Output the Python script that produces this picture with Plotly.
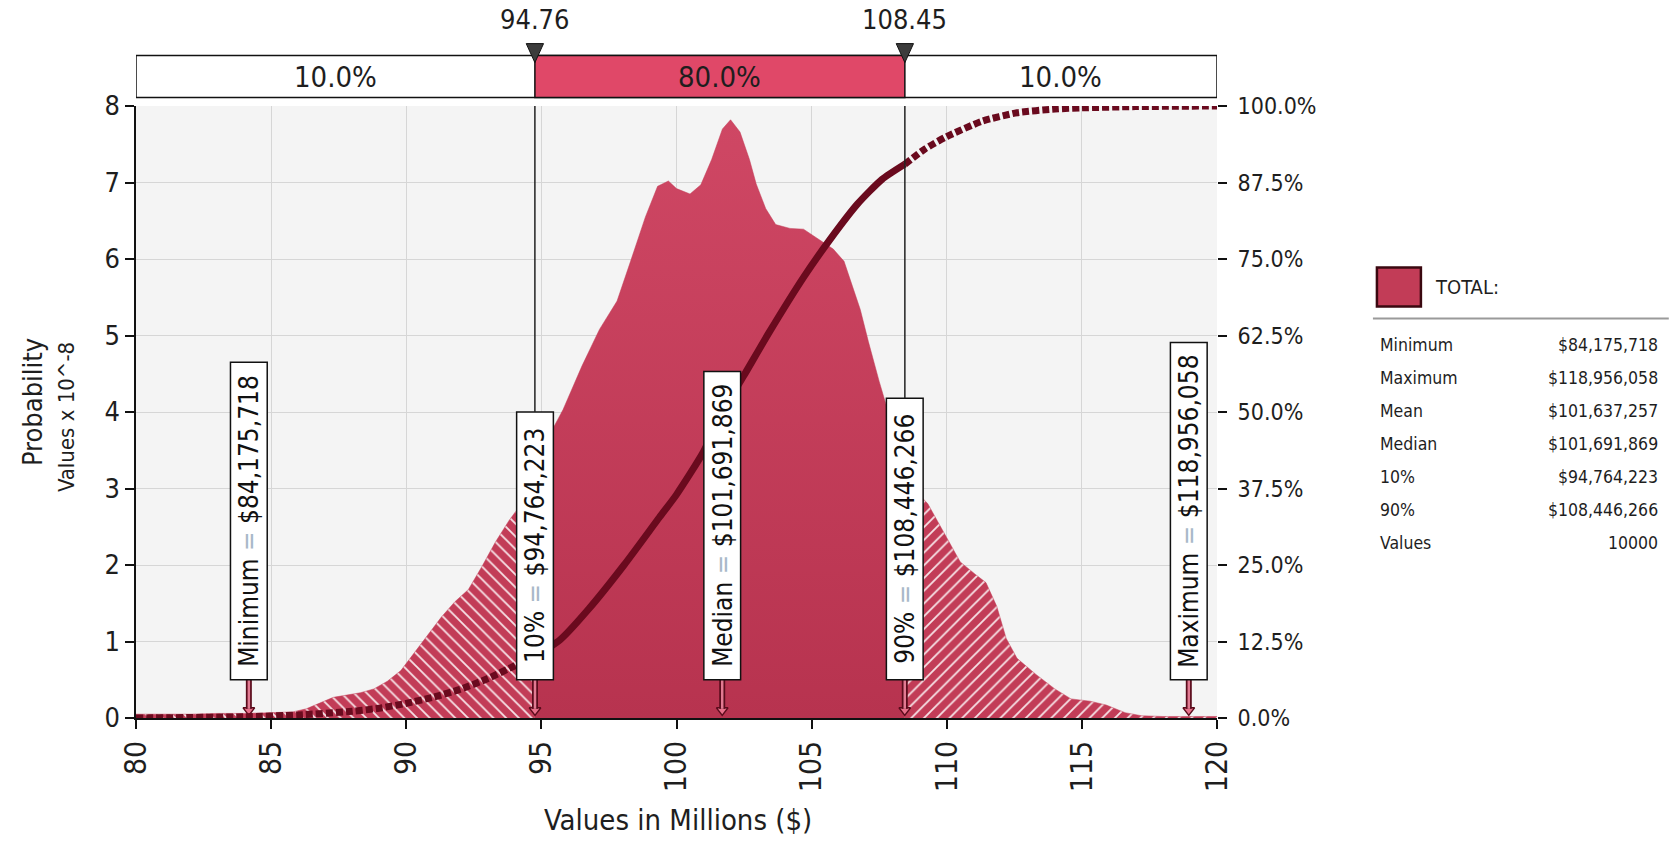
import plotly.graph_objects as go

# ---------------- data ----------------
dens_x = [80, 81, 82, 83, 84, 85, 85.8, 86.3, 86.8, 87.3, 87.8, 88.3, 88.8, 89.3, 89.8,
          90.3, 90.8, 91.3, 91.8, 92.3, 92.8, 93.3, 93.8, 94.3, 94.76,
          95.3, 95.8, 96.5, 97.15, 97.8, 98.3, 98.85, 99.3, 99.7, 100.0, 100.5, 100.9,
          101.3, 101.7, 102.0, 102.35, 102.7, 102.95, 103.3, 103.67, 104.2, 104.7,
          105.25, 105.8, 106.2, 106.4, 106.8, 107.1, 107.5, 107.9, 108.45,
          108.9, 109.3, 110.0, 110.5, 111.05, 111.45, 111.85, 112.2, 112.6, 113.3,
          114.0, 114.6, 115.3, 115.9, 116.6, 117.2, 118, 119, 120]
dens_y = [0.05, 0.05, 0.05, 0.06, 0.06, 0.07, 0.08, 0.12, 0.20, 0.27, 0.30, 0.33, 0.38, 0.48, 0.62,
          0.85, 1.08, 1.32, 1.52, 1.68, 1.98, 2.30, 2.58, 2.82, 3.20,
          3.70, 4.03, 4.60, 5.08, 5.45, 5.97, 6.55, 6.95, 7.02, 6.92, 6.85, 6.97,
          7.30, 7.70, 7.82, 7.66, 7.30, 6.98, 6.66, 6.45, 6.40, 6.39,
          6.26, 6.13, 5.97, 5.76, 5.34, 4.92, 4.40, 3.92, 3.30,
          2.95, 2.80, 2.35, 2.04, 1.88, 1.77, 1.46, 1.04, 0.78, 0.57,
          0.38, 0.25, 0.22, 0.17, 0.07, 0.03, 0.02, 0.02, 0.02]

cdf_x = [80, 84, 86, 88, 89, 90, 91, 92, 93, 94, 94.76, 95.7, 96.75, 98.06, 99.37, 100,
         101, 101.69, 102.5, 103.4, 104.7, 105.65, 106.7, 107.6, 108.45, 109.2, 110,
         111.3, 112.6, 114, 115, 117, 120]
cdf_y = [0, 0.2, 0.5, 1.1, 1.6, 2.4, 3.4, 4.7, 6.4, 8.5, 10, 12.8, 17.8, 25, 32.8, 36.5,
         43.5, 50, 56, 62.8, 72, 78, 84, 88, 90.5, 93, 95,
         97.5, 98.9, 99.5, 99.7, 99.9, 100]

stat_names = ["Minimum", "Maximum", "Mean", "Median", "10%", "90%", "Values"]
stat_values = ["$84,175,718", "$118,956,058", "$101,637,257", "$101,691,869",
               "$94,764,223", "$108,446,266", "10000"]

marker_names = ["Minimum", "10%", "Median", "90%", "Maximum"]
marker_values = [84.175718, 94.764223, 101.691869, 108.446266, 118.956058]
marker_texts = ["$84,175,718", "$94,764,223", "$101,691,869", "$108,446,266", "$118,956,058"]

band_lo, band_hi = 94.76, 108.45
band_labels = ["10.0%", "80.0%", "10.0%"]
series_name = "TOTAL:"

x_ticks = [80, 85, 90, 95, 100, 105, 110, 115, 120]
y_ticks = [0, 1, 2, 3, 4, 5, 6, 7, 8]
y2_ticks = [0, 12.5, 25, 37.5, 50, 62.5, 75, 87.5, 100]

# ---------------- style / layout ----------------
W, H = 1669, 841
PL, PR, PT, PB = 135.5, 1217, 106.4, 718.5   # plot box in window pixels
ML, MT = PL, PT
MR, MB = W - PR, H - PB
PW, PH = PR - PL, PB - PT
FONT = "Tahoma, 'DejaVu Sans Condensed', 'DejaVu Sans', sans-serif"
TXT = "#1e1e1e"
FILL = "#c23c57"
CDF_C = "#6a0a1e"
BAND_C = "#e04868"
BOX_TOPS = [4.65, 4.0, 4.53, 4.18, 4.91]
BOX_HALF = 0.68


def pxx(xp):
    return (xp - PL) / PW


def pxy(yp):
    return (PB - yp) / PH


fig = go.Figure()

left = [i for i, v in enumerate(dens_x) if v <= band_lo]
mid = [i for i, v in enumerate(dens_x) if band_lo <= v <= band_hi]
right = [i for i, v in enumerate(dens_x) if v >= band_hi]


def sub(arr, idx):
    return [arr[i] for i in idx]


hatch_l = dict(shape="\\", bgcolor=FILL, fgcolor="rgba(255,255,255,0.85)", size=9,
               solidity=0.2, fillmode="replace")
hatch_r = dict(shape="/", bgcolor=FILL, fgcolor="rgba(255,255,255,0.85)", size=9,
               solidity=0.2, fillmode="replace")

fig.add_trace(go.Scatter(x=sub(dens_x, left), y=sub(dens_y, left), mode="lines",
                         line=dict(color=FILL, width=0.5), fill="tozeroy",
                         fillcolor=FILL, fillpattern=hatch_l, hoverinfo="skip"))
fig.add_trace(go.Scatter(x=sub(dens_x, mid), y=sub(dens_y, mid), mode="lines",
                         line=dict(color=FILL, width=0.5), fill="tozeroy",
                         fillgradient=dict(type="vertical",
                                           colorscale=[[0, "#b7334f"], [1, "#cf4764"]]),
                         hoverinfo="skip"))
fig.add_trace(go.Scatter(x=sub(dens_x, right), y=sub(dens_y, right), mode="lines",
                         line=dict(color=FILL, width=0.5), fill="tozeroy",
                         fillcolor=FILL, fillpattern=hatch_r, hoverinfo="skip"))

cl = [i for i, v in enumerate(cdf_x) if v <= band_lo]
cm = [i for i, v in enumerate(cdf_x) if band_lo <= v <= band_hi]
cr = [i for i, v in enumerate(cdf_x) if v >= band_hi]
for idx, dash in ((cl, "7px,3px"), (cm, "solid"), (cr, "7px,3px")):
    fig.add_trace(go.Scatter(x=sub(cdf_x, idx), y=sub(cdf_y, idx), yaxis="y2",
                             mode="lines", line=dict(color=CDF_C, width=7, dash=dash,
                                                     shape="spline", smoothing=0.6),
                             hoverinfo="skip", cliponaxis=False))

shapes = []
annotations = []

# marker boxes, stems
for name, v, t, top in zip(marker_names, marker_values, marker_texts, BOX_TOPS):
    shapes.append(dict(type="line", xref="x", yref="y", x0=v, x1=v, y0=0.5, y1=0.12,
                       line=dict(color="#5a0c1c", width=6), layer="above"))
    shapes.append(dict(type="line", xref="x", yref="y", x0=v, x1=v, y0=0.5, y1=0.12,
                       line=dict(color="#e27a92", width=2.5), layer="above"))
    shapes.append(dict(type="rect", xref="x", yref="y", x0=v - BOX_HALF, x1=v + BOX_HALF,
                       y0=0.5, y1=top, fillcolor="white",
                       line=dict(color="#111111", width=1.5), layer="above"))
    annotations.append(dict(xref="x", yref="y", x=v, y=(0.5 + top) / 2,
                            xanchor="center", yanchor="middle",
                            text=f"{name} <span style='color:#a9b9c9'>=</span> {t}",
                            textangle=-90, showarrow=False,
                            font=dict(family=FONT, size=26, color="#111111")))

fig.add_trace(go.Scatter(x=marker_values, y=[0.1] * len(marker_values), mode="markers",
                         marker=dict(symbol="triangle-down", size=10, color="#e8708a",
                                     line=dict(color="#5a0c1c", width=1.5)),
                         cliponaxis=False, hoverinfo="skip"))

# percentile lines
for v, top in ((band_lo, BOX_TOPS[1]), (band_hi, BOX_TOPS[3])):
    shapes.append(dict(type="line", xref="x", yref="y", x0=v, x1=v, y0=top, y1=8,
                       line=dict(color="#222222", width=1.5), layer="above"))

# top band
by0, by1 = pxy(98), pxy(56)
shapes.append(dict(type="rect", xref="x", yref="paper", x0=x_ticks[0], x1=x_ticks[-1],
                   y0=by0, y1=by1, fillcolor="white", line=dict(color="#111111", width=1.5)))
shapes.append(dict(type="rect", xref="x", yref="paper", x0=band_lo, x1=band_hi,
                   y0=by0, y1=by1, fillcolor=BAND_C, line=dict(color="#111111", width=1.5)))
centers = [(x_ticks[0] + band_lo) / 2, (band_lo + band_hi) / 2, (band_hi + x_ticks[-1]) / 2]
for c, lab in zip(centers, band_labels):
    annotations.append(dict(xref="x", yref="paper", x=c, y=(by0 + by1) / 2, text=lab,
                            xanchor="center", yanchor="middle", showarrow=False,
                            font=dict(family=FONT, size=29, color=TXT)))
tw = 0.32
for v in (band_lo, band_hi):
    ya, yb = pxy(63), pxy(44)
    shapes.append(dict(type="path", xref="x", yref="paper",
                       path=f"M {v - tw},{yb} L {v + tw},{yb} L {v},{ya} Z",
                       fillcolor="#3c3c3c", line=dict(color="#111111", width=1)))
    annotations.append(dict(xref="x", yref="paper", x=v, y=pxy(20), text=f"{v:.2f}",
                            xanchor="center", yanchor="middle", showarrow=False,
                            font=dict(family=FONT, size=27, color=TXT)))

# axis titles
annotations.append(dict(xref="paper", yref="paper", x=pxx(32), y=pxy(403),
                        xanchor="center", yanchor="middle",
                        text="Probability", textangle=-90, showarrow=False,
                        font=dict(family=FONT, size=27, color=TXT)))
annotations.append(dict(xref="paper", yref="paper", x=pxx(66), y=pxy(418),
                        xanchor="center", yanchor="middle",
                        text="Values x 10^-8", textangle=-90, showarrow=False,
                        font=dict(family=FONT, size=22, color=TXT)))
annotations.append(dict(xref="paper", yref="paper", x=pxx(678), y=pxy(821),
                        xanchor="center", yanchor="middle",
                        text="Values in Millions ($)", showarrow=False,
                        font=dict(family=FONT, size=29, color=TXT)))

# legend / stats panel
shapes.append(dict(type="rect", xref="paper", yref="paper", x0=pxx(1377), x1=pxx(1421),
                   y0=pxy(307), y1=pxy(268), fillcolor=FILL,
                   line=dict(color="#3a0810", width=2.5)))
annotations.append(dict(xref="paper", yref="paper", x=pxx(1433), y=pxy(287),
                        xanchor="left", yanchor="middle", text=series_name, showarrow=False,
                        font=dict(family=FONT, size=20, color=TXT)))
shapes.append(dict(type="line", xref="paper", yref="paper", x0=pxx(1373), x1=pxx(1669),
                   y0=pxy(319), y1=pxy(319), line=dict(color="#9a9a9a", width=2)))
for k, (n, val) in enumerate(zip(stat_names, stat_values)):
    yy = pxy(345 + 33 * k)
    annotations.append(dict(xref="paper", yref="paper", x=pxx(1378), y=yy,
                            xanchor="left", yanchor="middle", text=n, showarrow=False,
                            font=dict(family=FONT, size=17.5, color=TXT)))
    annotations.append(dict(xref="paper", yref="paper", x=pxx(1660), y=yy,
                            xanchor="right", yanchor="middle", text=val, showarrow=False,
                            font=dict(family=FONT, size=17.5, color=TXT)))

fig.update_layout(
    width=W, height=H, margin=dict(l=ML, r=MR, t=MT, b=MB, autoexpand=False),
    paper_bgcolor="white", plot_bgcolor="#f4f4f4", showlegend=False,
    font=dict(family=FONT, color=TXT),
    xaxis=dict(range=[x_ticks[0], x_ticks[-1]], tickvals=x_ticks, tickangle=-90,
               ticks="outside", ticklen=9, tickwidth=1.5, tickcolor="#111111",
               showline=True, linecolor="#111111", linewidth=1.5,
               gridcolor="#d6d6d6", gridwidth=1, zeroline=False,
               tickfont=dict(family=FONT, size=30, color=TXT)),
    yaxis=dict(range=[0, 8], tickvals=y_ticks, ticks="outside", ticklen=9, tickwidth=1.5,
               tickcolor="#111111", showline=True, linecolor="#111111", linewidth=1.5,
               gridcolor="#d6d6d6", gridwidth=1, zeroline=False,
               tickfont=dict(family=FONT, size=27, color=TXT)),
    yaxis2=dict(range=[0, 100], overlaying="y", side="right", tickvals=y2_ticks,
                ticktext=[f"{t:.1f}%" for t in y2_ticks], ticks="outside", ticklen=9,
                tickwidth=1.5, tickcolor="#111111", showgrid=False, showline=False,
                zeroline=False, ticklabelstandoff=6,
                tickfont=dict(family=FONT, size=23, color=TXT)),
    shapes=shapes, annotations=annotations,
)

fig.write_html("out.html", config={"displayModeBar": False},
               post_script="document.body.style.margin='0';"
                           "document.body.style.overflow='hidden';")
